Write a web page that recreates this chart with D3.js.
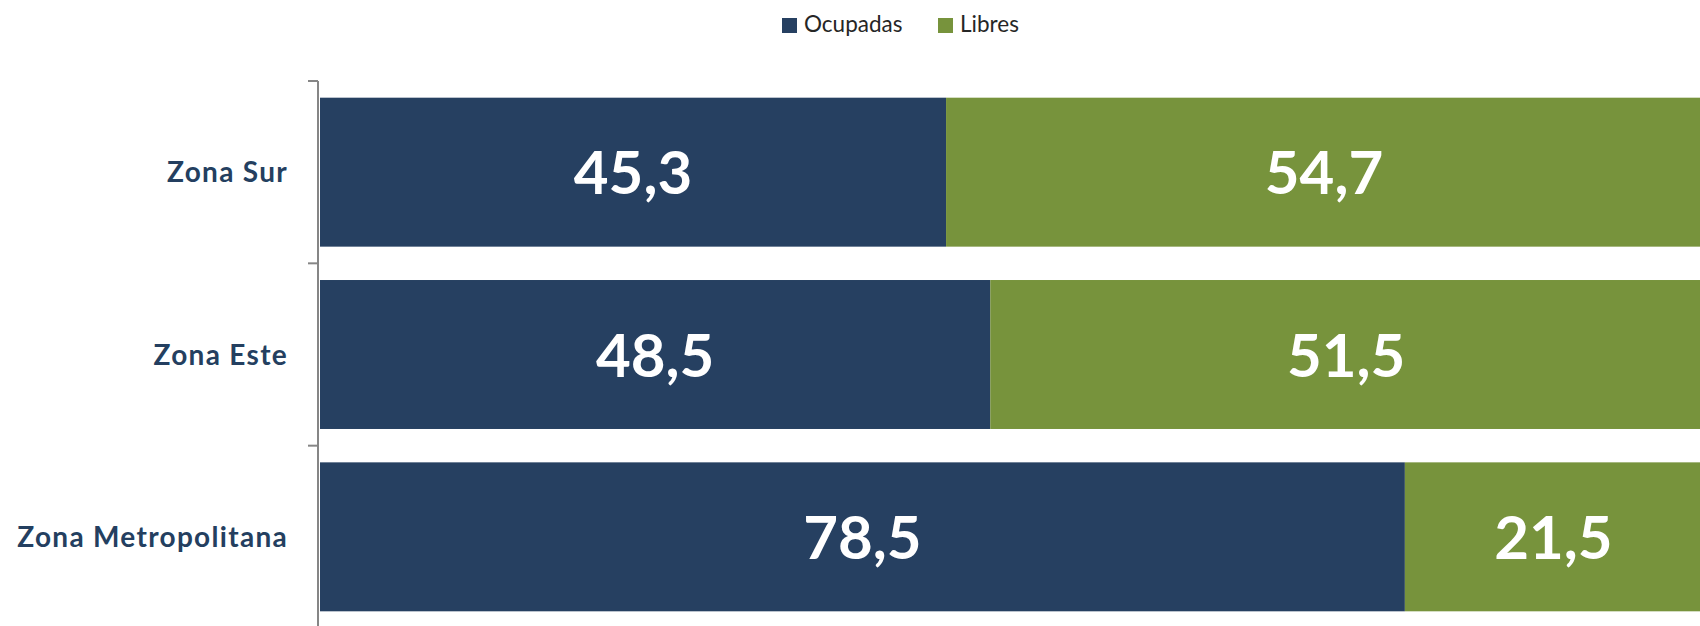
<!DOCTYPE html>
<html>
<head>
<meta charset="utf-8">
<script src="https://cdn.jsdelivr.net/npm/d3@7"></script>
<style>
  html, body { margin: 0; padding: 0; background: #fff; }
  svg { display: block; }
  .cat-label { font-family: Lato, "Open Sans", sans-serif; font-weight: bold; fill: #243f60; letter-spacing: 1.3px; }
  .value-label { font-family: Lato, "Open Sans", sans-serif; font-weight: bold; fill: #fff; }
  .legend text { font-family: Lato, "Open Sans", sans-serif; fill: #262626; }
</style>
</head>
<body>
<div id="chart"></div>
<script>
// data
var categories = ['Zona Sur', 'Zona Este', 'Zona Metropolitana'];
var seriesNames = ['Ocupadas', 'Libres'];
var ocupadas = [45.3, 48.5, 78.5];
var libres = [54.7, 51.5, 21.5];
var colors = ['#264061', '#77933c'];

var width = 1700, height = 626;

var rows = categories.map(function (c, i) {
  return { cat: c, Ocupadas: ocupadas[i], Libres: libres[i] };
});

var svg = d3.select('#chart').append('svg')
  .attr('width', width)
  .attr('height', height);

//scales
var x = d3.scaleLinear().domain([0, 100]).range([320, 1702]);
var y = d3.scaleBand().domain(categories).range([81, 628]).paddingInner(0.183).paddingOuter(0.0915);

var stack = d3.stack().keys(seriesNames);
var layers = stack(rows);

var groups = svg.selectAll('g.layer')
  .data(layers)
  .enter().append('g')
  .attr('class', 'layer')
  .attr('fill', function (d, i) { return colors[i]; });

groups.selectAll('rect')
  .data(function (d) { return d; })
  .enter().append('rect')
  .attr('x', function (d) { return x(d[0]); })
  .attr('y', function (d) { return y(d.data.cat); })
  .attr('width', function (d) { return x(d[1]) - x(d[0]); })
  .attr('height', y.bandwidth());

//value labels in the middle of each segment
groups.selectAll('text')
  .data(function (d) { return d.map(function (s) { return { s: s, key: d.key }; }); })
  .enter().append('text')
  .attr('class', 'value-label')
  .attr('text-anchor', 'middle')
  .attr('x', function (d) { return x((d.s[0] + d.s[1]) / 2); })
  .attr('y', function (d) { return y(d.s.data.cat) + y.bandwidth() / 2 + 22; })
  .style('font-size', '60px')
  .text(function (d) { return d3.format('.1f')(d.s.data[d.key]).replace('.', ','); });

//axis line + ticks at band boundaries (excel style)
var axisG = svg.append('g').attr('stroke', '#868686').attr('stroke-width', 2);
var y0 = y.range()[0], y1 = y.range()[1];
axisG.append('line').attr('x1', 318).attr('x2', 318).attr('y1', y0).attr('y2', y1);
d3.range(categories.length + 1).forEach(function (i) {
  var ty = y0 + i * y.step();
  axisG.append('line').attr('x1', 308).attr('x2', 318).attr('y1', ty).attr('y2', ty);
});

//category labels
svg.selectAll('text.cat-label')
  .data(categories)
  .enter().append('text')
  .attr('class', 'cat-label')
  .attr('text-anchor', 'end')
  .attr('x', 288)
  .attr('y', function (d) { return y(d) + y.bandwidth() / 2 + 10; })
  .style('font-size', '28px')
  .text(function (d) { return d; });

//legend
var legend = svg.append('g').attr('class', 'legend');
var legendX = [782, 938];
seriesNames.forEach(function (name, i) {
  legend.append('rect')
    .attr('x', legendX[i]).attr('y', 18)
    .attr('width', 15).attr('height', 15)
    .attr('fill', colors[i]);
  legend.append('text')
    .attr('x', legendX[i] + 22).attr('y', 32)
    .style('font-size', '22.5px')
    .text(name);
});
</script>
</body>
</html>
